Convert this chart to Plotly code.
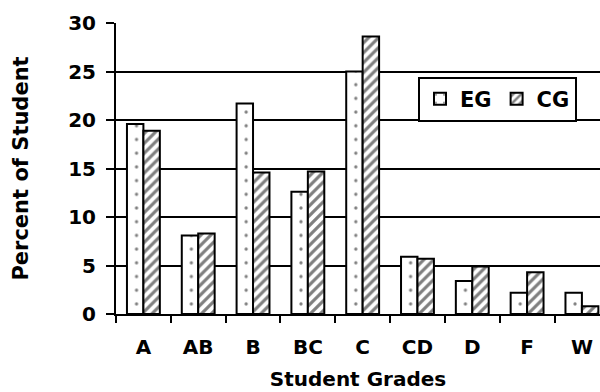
import plotly.graph_objects as go

# Share of students at each grade, experimental (EG) vs control (CG) group
grades = ["A", "AB", "B", "BC", "C", "CD", "D", "F", "W"]
eg_pct = [19.6, 8.1, 21.7, 12.6, 25.0, 5.9, 3.4, 2.2, 2.2]
cg_pct = [18.9, 8.3, 14.6, 14.7, 28.6, 5.7, 4.9, 4.3, 0.8]
y_ticks = [0, 5, 10, 15, 20, 25, 30]

FONT = "DejaVu Sans"
X_RANGE = [-0.5, 8.33]
PLOT_W = 600 - 116
# dot tile = a quarter of one category slot, so a dot column falls inside each EG bar
DOT_TILE = PLOT_W / (X_RANGE[1] - X_RANGE[0]) / 4

fig = go.Figure()
fig.add_trace(go.Bar(
    name="EG", x=grades, y=eg_pct,
    marker=dict(
        color="white",
        line=dict(color="black", width=2),
        pattern=dict(shape=".", size=DOT_TILE, solidity=0.045,
                     fgcolor="black", bgcolor="white"),
    ),
))
fig.add_trace(go.Bar(
    name="CG", x=grades, y=cg_pct,
    marker=dict(
        color="white",
        line=dict(color="black", width=2),
        pattern=dict(shape="/", size=7, solidity=0.45,
                     fgcolor="black", bgcolor="white"),
    ),
))

fig.update_layout(
    width=600, height=392,
    margin=dict(l=116, r=0, t=23, b=78),
    paper_bgcolor="white", plot_bgcolor="white",
    barmode="group", bargap=0.4, bargroupgap=0,
    font=dict(family=FONT, size=20, color="black"),
    showlegend=True,
    legend=dict(
        orientation="h", x=0.624, y=0.816, xanchor="left", yanchor="top",
        bgcolor="white", bordercolor="black", borderwidth=2,
        font=dict(family=FONT, size=21, color="black", weight="bold"),
        itemwidth=30, tracegroupgap=0,
    ),
    xaxis=dict(
        type="category", range=X_RANGE, automargin=False,
        showline=True, linecolor="black", linewidth=2,
        ticks="outside", ticklen=7, tickwidth=2, tickcolor="black",
        tickson="boundaries", showgrid=False,
        tickfont=dict(family=FONT, size=20, weight="bold"),
        ticklabelstandoff=14,
        title=dict(text="Student Grades", standoff=14,
                   font=dict(family=FONT, size=20, weight="bold")),
    ),
    yaxis=dict(
        range=[0, 30], tickvals=y_ticks, automargin=False,
        showline=True, linecolor="black", linewidth=2,
        ticks="outside", ticklen=8, tickwidth=2, tickcolor="black",
        showgrid=True, gridcolor="black", gridwidth=2,
        zeroline=False,
        tickfont=dict(family=FONT, size=20, weight="bold"),
        ticklabelstandoff=6,
        title=dict(text="Percent of Student", standoff=34,
                   font=dict(family=FONT, size=21, weight="bold")),
    ),
)

fig.write_html("out.html")
